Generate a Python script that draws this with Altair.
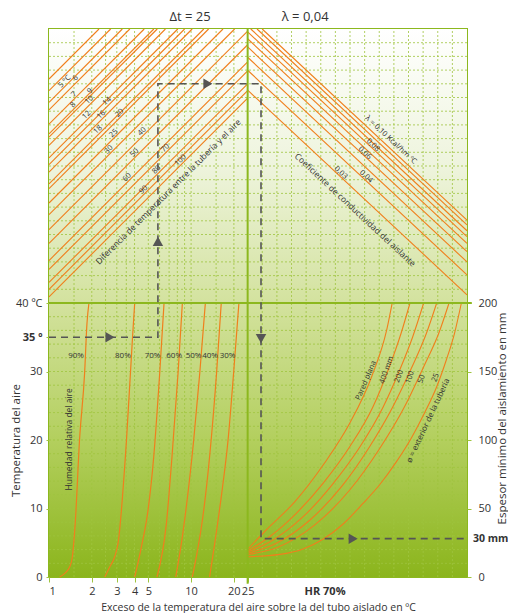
import altair as alt
import pandas as pd
import numpy as np

# ---------------- geometry of the nomogram ----------------
W, H = 418, 548
YMAX = 80.0                      # temperature-scale units over the full height (0-40 lower, 40-80 upper)
XMAX = W * YMAX / H              # linear units with the same pixel size as y units
DIV = 29.0                       # central divider (Δt = 25 on the log axis)
LOGMAX = 10 ** (np.log10(25.0) * XMAX / DIV)

ORANGE = "#f07f1c"
GREEN = "#8cb81e"
GRID = "#9fc43f"
TEXT = "#333333"
DASH = "#555555"
FONT = "Open Sans"

# ---------------- data ----------------
# Δt lines (upper left): intercept on the left edge
dt_extra_c = [72.7, 71.0]
dt_names = ["5 °C", "6", "7", "8", "9", "10", "12", "14", "16", "18", "20",
            "25", "30", "40", "50", "60", "70", "80", "90", "100"]
dt_c = [69.3, 68.2, 66.1, 64.7, 64.2, 63.0, 61.2, 60.2, 59.1, 57.4, 56.7,
        54.6, 52.9, 50.7, 48.7, 46.2, 44.9, 43.0, 42.0, 40.9]
dt_label_x = [2.3, 3.9, 3.65, 3.5, 6.0, 5.9, 5.5, 8.5, 7.65, 7.15, 10.3,
              9.45, 8.75, 13.6, 12.5, 11.4, 17.0, 15.7, 13.8, 19.2]

# λ lines (upper right): height where each meets the right edge
lam_right_y = [52.1, 51.4, 50.55, 49.7, 48.7, 47.5, 46.0, 44.1, 41.2]
LAM_SLOPE = 0.933
lam_labels = ["λ = 0,10 Kcal/hm ºC", "0,08", "0,06", "0,04", "0,03"]
lam_label_x = [49.9, 47.3, 46.1, 46.3, 42.6]
lam_label_y = [63.8, 63.05, 61.87, 58.44, 59.0]

# relative humidity curves (lower left): air temperature vs excess temperature (log axis)
hr_t = {
    "90%": [0, 0.54, 1.5, 2.96, 7.9, 20, 29.7, 37, 40],
    "80%": [0, 1.5, 2.96, 4.9, 20, 34.6, 40],
    "70%": [0, 4.4, 9.8, 17.6, 29.7, 40],
    "60%": [0, 7.8, 17.6, 29.7, 40],
    "50%": [0, 4.9, 10.3, 20, 29.7, 40],
    "40%": [0, 3.0, 8.8, 17.6, 29.7, 40],
    "30%": [0, 4.9, 11.7, 20, 29.7, 40],
}
hr_x = {
    "90%": [1.19, 1.29, 1.40, 1.46, 1.53, 1.64, 1.78, 1.85, 1.91],
    "80%": [2.47, 2.68, 2.90, 3.06, 3.51, 3.86, 4.01],
    "70%": [4.01, 4.47, 4.98, 5.46, 6.01, 6.45],
    "60%": [5.75, 6.70, 7.34, 8.09, 8.68],
    "50%": [7.79, 8.54, 9.26, 10.43, 11.5, 12.6],
    "40%": [10.2, 10.9, 12.1, 13.5, 15.1, 16.3],
    "30%": [13.5, 14.66, 16.3, 18.2, 19.9, 21.7],
}
hr_label_x = [1.55, 3.31, 5.35, 7.6, 10.4, 13.6, 18.05]
HR_LABEL_T = 32.2

# insulation thickness curves (lower right): x (linear units) vs thickness in mm
th_x = {
    "Pared plana": [29.0, 31.7, 35.9, 40.2, 43.9, 47.1, 49.3, 50.1],
    "400 mm": [29.0, 32.2, 36.1, 40.0, 43.9, 47.3, 49.7, 51.4, 52.7],
    "200": [29.0, 32.7, 37.1, 41.5, 45.4, 48.8, 51.2, 53.1, 54.7],
    "100": [29.0, 33.2, 38.1, 42.7, 46.8, 50.2, 52.9, 55.1, 56.6],
    "50": [29.0, 33.4, 38.8, 43.9, 48.3, 51.9, 54.7, 56.9, 58.4],
    "25": [29.0, 33.7, 37.1, 40.0, 42.9, 45.8, 48.3, 50.7, 52.9, 54.8, 56.6, 58.0, 59.2, 60.2],
}
th_mm = {
    "Pared plana": [20.2, 34.3, 55.0, 83.0, 112.2, 146.2, 180.3, 200],
    "400 mm": [19.2, 29.4, 46.5, 68.4, 95.1, 124.3, 153.5, 177.9, 200],
    "200": [18.3, 27.0, 44.0, 68.4, 95.1, 124.3, 151.1, 175.4, 200],
    "100": [17.3, 24.6, 41.6, 65.9, 95.1, 124.3, 152.3, 177.9, 200],
    "50": [16.3, 21.7, 38.0, 63.5, 94.0, 124.3, 153.5, 177.9, 200],
    "25": [14.8, 16.5, 20.5, 27.5, 38.5, 53.5, 67.5, 84.0, 101.5, 119.5, 138.9, 158.4, 177.9, 200],
}
th_label_names = ["Pared plana", "400 mm", "200", "100", "50", "25"]
th_label_x = [46.3, 49.3, 51.1, 52.7, 54.4, 56.45]
th_label_y = [28.7, 30.2, 29.3, 29.15, 28.9, 29.1]
th_label_angle = [293, 290, 290, 290, 290, 290]

# example path (dashed) and its arrows
path_x = [0.0, 15.9, 15.9, 30.95, 30.95, XMAX]
path_y = [35.0, 35.0, 72.0, 72.0, 5.6, 5.6]
arrow_x = [8.9, 15.9, 23.2, 30.95, 44.4]
arrow_y = [35.0, 49.0, 72.0, 34.8, 5.6]
arrow_shape = ["triangle-right", "triangle-up", "triangle-right", "triangle-down", "triangle-right"]
result_label = "30 mm"
RESULT_Y = 5.6

# axes
left_ticks = [0, 10, 20, 30, 35, 40]
right_ticks = [0, 10, 20, 30, 40]      # 5 mm per unit
bottom_ticks = [1, 2, 3, 4, 5, 10, 20, 25]
log_grid = [1.5, 2, 2.5, 3, 3.5, 4, 5, 6, 7, 8, 9, 10, 15, 20]

# ---------------- scales ----------------
xlin = alt.Scale(domain=[0, XMAX], nice=False, zero=False)
xlog = alt.Scale(type="log", domain=[1, LOGMAX], nice=False)
ysc = alt.Scale(domain=[0, YMAX], nice=False, zero=False)


def XL(f="x"):
    return alt.X(f"{f}:Q", scale=xlin, axis=None)


def XG(f="x", axis=None):
    return alt.X(f"{f}:Q", scale=xlog, axis=axis)


def Y(f="y", axis=None):
    return alt.Y(f"{f}:Q", scale=ysc, axis=axis)


# ---------------- layers ----------------
bg = alt.Chart(pd.DataFrame({"x": [0.0], "x2": [XMAX], "y": [0.0], "y2": [YMAX]})).mark_rect(
    color=alt.LinearGradient(
        gradient="linear",
        stops=[
            alt.GradientStop(offset=0, color="#ffffff"),
            alt.GradientStop(offset=0.25, color="#eef4dd"),
            alt.GradientStop(offset=0.5, color="#d3e29e"),
            alt.GradientStop(offset=0.75, color="#b3cf5e"),
            alt.GradientStop(offset=1, color="#8bb51c"),
        ],
        x1=0, x2=0, y1=0, y2=1,
    )
).encode(x=XL("x"), x2="x2:Q", y=Y("y"), y2="y2:Q")

hgrid_y = [v for v in range(2, 80, 2) if v != 40]
hgrid = alt.Chart(pd.DataFrame({"y": hgrid_y, "x": 0.0, "x2": XMAX})).mark_rule(
    color=GRID, strokeDash=[2, 2], strokeWidth=1, opacity=0.8
).encode(x=XL("x"), x2="x2:Q", y=Y("y"))

rgrid_x = [DIV + k * (XMAX - DIV) / 15 for k in range(1, 15)]
rgrid = alt.Chart(pd.DataFrame({"x": rgrid_x, "y": 0.0, "y2": YMAX})).mark_rule(
    color=GRID, strokeDash=[2, 2], strokeWidth=1, opacity=0.8
).encode(x=XL("x"), y=Y("y"), y2="y2:Q")

bottom_axis = alt.Axis(
    values=bottom_ticks, domain=False, ticks=True, tickColor=GRID, tickSize=5,
    labelPadding=3, labelFontSize=11, labelOverlap=False, labelFlush=True,
    labelFontWeight="normal",
    title="Exceso de la temperatura del aire sobre la del tubo aislado en ºC",
    titleFontSize=10.5, titleFontWeight="normal", titleY=30, titleBaseline="middle", grid=False,
)
lgrid = alt.Chart(pd.DataFrame({"x": log_grid, "y": 0.0, "y2": YMAX})).mark_rule(
    color=GRID, strokeDash=[2, 2], strokeWidth=1, opacity=0.8
).encode(x=XG("x", axis=bottom_axis), y=Y("y"), y2="y2:Q")

# Δt lines
rows = []
for i, c in enumerate(dt_extra_c + dt_c):
    xe = min(DIV, YMAX - c)
    rows.append({"id": i, "o": 0, "x": 0.0, "y": c})
    rows.append({"id": i, "o": 1, "x": xe, "y": c + xe})
dt_lines = alt.Chart(pd.DataFrame(rows)).mark_line(color=ORANGE, strokeWidth=1.1).encode(
    x=XL("x"), y=Y("y"), detail="id:N", order="o:Q")

dt_lab = pd.DataFrame({"t": dt_names, "x": dt_label_x, "c": dt_c})
dt_lab["y"] = dt_lab["x"] + dt_lab["c"] + 0.73
dt_text = alt.Chart(dt_lab).mark_text(angle=315, fontSize=7.5, color=TEXT, font=FONT).encode(
    x=XL("x"), y=Y("y"), text="t:N")

# λ lines
rows = []
for i, yr in enumerate(lam_right_y):
    xs = max(DIV, XMAX - (YMAX - yr) / LAM_SLOPE)
    ys = yr + LAM_SLOPE * (XMAX - xs)
    rows.append({"id": i, "o": 0, "x": xs, "y": ys})
    rows.append({"id": i, "o": 1, "x": XMAX, "y": yr})
lam_lines = alt.Chart(pd.DataFrame(rows)).mark_line(color=ORANGE, strokeWidth=1.1).encode(
    x=XL("x"), y=Y("y"), detail="id:N", order="o:Q")
lam_text = alt.Chart(pd.DataFrame({"t": lam_labels, "x": lam_label_x, "y": lam_label_y})).mark_text(
    angle=43, fontSize=7.5, color=TEXT, font=FONT).encode(x=XL("x"), y=Y("y"), text="t:N")

# humidity curves + left axis
rows = []
for k in hr_t:
    for t, xv in zip(hr_t[k], hr_x[k]):
        rows.append({"id": k, "x": xv, "y": t})
left_axis = alt.Axis(
    values=left_ticks, domain=False, grid=False, tickColor=GRID, tickSize=3, labelPadding=4,
    labelFontSize=11, labelOverlap=False,
    labelExpr="datum.value == 40 ? '40 ºC' : (datum.value == 35 ? '35 º' : datum.label)",
    labelFontWeight={"condition": {"test": "datum.value == 35", "value": "bold"}, "value": "normal"},
    title="Temperatura del aire", titleFontSize=11.5, titleFontWeight="normal",
    titleAngle=270, titleX=-33, titleY=411,
    titleAlign="center", titleBaseline="middle",
)
hr_lines = alt.Chart(pd.DataFrame(rows)).mark_line(color=ORANGE, strokeWidth=1.2, interpolate="monotone").encode(
    x=XG("x"), y=Y("y", axis=left_axis), detail="id:N")
hr_text = alt.Chart(pd.DataFrame({"t": list(hr_t.keys()), "x": hr_label_x, "y": HR_LABEL_T})).mark_text(
    fontSize=8, color=TEXT, font=FONT).encode(x=XG("x"), y=Y("y"), text="t:N")
hum_title = alt.Chart(pd.DataFrame({"t": ["Humedad relativa del aire"], "x": [1.39], "y": [20.1]})).mark_text(
    angle=270, fontSize=8.5, color=TEXT, font=FONT).encode(x=XG("x"), y=Y("y"), text="t:N")

# thickness curves + right axis
rows = []
for k in th_x:
    for xv, mm in zip(th_x[k], th_mm[k]):
        rows.append({"id": k, "x": xv, "mm": mm})
th_df = pd.DataFrame(rows)
th_df["y"] = th_df["mm"] / 5.0
right_axis = alt.Axis(
    orient="right", values=right_ticks, domain=False, grid=False, tickColor=GRID, tickSize=4,
    labelPadding=7, labelFontSize=11, labelOverlap=False, labelFontWeight="normal",
    labelExpr="format(datum.value * 5, 'd')",
    title="Espesor mínimo del aislamiento en mm", titleFontSize=11.5, titleFontWeight="normal",
    titleAngle=270, titleX=35, titleY=389, titleAlign="center", titleBaseline="middle",
)
th_lines = alt.Chart(th_df).mark_line(color=ORANGE, strokeWidth=1.1, interpolate="monotone").encode(
    x=XL("x"), y=Y("y", axis=right_axis), detail="id:N")
th_text = alt.Chart(pd.DataFrame({"t": th_label_names, "x": th_label_x, "y": th_label_y,
                                  "a": th_label_angle})).mark_text(
    fontSize=7.5, color=TEXT, font=FONT).encode(x=XL("x"), y=Y("y"), text="t:N",
                                                angle=alt.Angle("a:Q", scale=None))
phi_text = alt.Chart(pd.DataFrame({"t": ["ø = exterior de la tubería"], "x": [55.4], "y": [22.8]})).mark_text(
    angle=295, fontSize=8, color=TEXT, font=FONT).encode(x=XL("x"), y=Y("y"), text="t:N")

# long diagonal captions
cap_df = pd.DataFrame({
    "t": ["Diferencia de temperatura entre la tubería y el aire", "Coeficiente de conductividad del aislante"],
    "x": [17.4, 44.7], "y": [56.25, 53.6], "a": [315, 43]})
captions = alt.Chart(cap_df).mark_text(fontSize=8.5, color=TEXT, font=FONT).encode(
    x=XL("x"), y=Y("y"), text="t:N", angle=alt.Angle("a:Q", scale=None))

# structure lines: 40 ºC separator and central divider
sep = alt.Chart(pd.DataFrame({"x": [0.0], "x2": [XMAX + 0.7], "y": [40.0]})).mark_rule(
    color=GREEN, strokeWidth=1.8).encode(x=XL("x"), x2="x2:Q", y=Y("y"))
divider = alt.Chart(pd.DataFrame({"x": [DIV], "y": [-1.0], "y2": [YMAX]})).mark_rule(
    color=GREEN, strokeWidth=2).encode(x=XL("x"), y=Y("y"), y2="y2:Q")

# example path
path = alt.Chart(pd.DataFrame({"x": path_x, "y": path_y, "o": list(range(len(path_x)))})).mark_line(
    color=DASH, strokeDash=[7, 5], strokeWidth=1.6).encode(x=XL("x"), y=Y("y"), order="o:Q")
arrows = alt.Chart(pd.DataFrame({"x": arrow_x, "y": arrow_y, "s": arrow_shape})).mark_point(
    filled=True, size=110, color=DASH, opacity=1).encode(
    x=XL("x"), y=Y("y"), shape=alt.Shape("s:N", scale=None))
result = alt.Chart(pd.DataFrame({"t": [result_label], "x": [XMAX], "y": [RESULT_Y]})).mark_text(
    fontSize=10.5, fontWeight="bold", color=TEXT, font=FONT, align="left", dx=6).encode(
    x=XL("x"), y=Y("y"), text="t:N")

# headings
head_df = pd.DataFrame({"t": ["Δt = 25", "λ = 0,04"], "x": [20.6, 37.4], "y": [81.75, 81.75]})
heads = alt.Chart(head_df).mark_text(fontSize=13, color=TEXT, font=FONT).encode(
    x=XL("x"), y=Y("y"), text="t:N")
hr70 = alt.Chart(pd.DataFrame({"t": ["HR 70%"], "x": [40.3], "y": [-2.2]})).mark_text(
    fontSize=11, fontWeight="bold", color=TEXT, font=FONT).encode(x=XL("x"), y=Y("y"), text="t:N")

chart = alt.layer(
    bg, hgrid, rgrid, lgrid,
    dt_lines, lam_lines, hr_lines, th_lines,
    sep, divider,
    dt_text, lam_text, hr_text, hum_title, th_text, phi_text, captions,
    path, arrows, result, heads, hr70,
).resolve_scale(x="independent").resolve_axis(y="independent", x="independent").properties(
    width=W, height=H,
    padding={"left": 41, "top": 21, "right": 41, "bottom": 36},
    autosize=alt.AutoSizeParams(type="none"),
).configure(font=FONT).configure_view(stroke=GREEN, strokeWidth=2).configure_axis(
    labelFont=FONT, titleFont=FONT, labelColor=TEXT, titleColor=TEXT
)

chart.save("out.html", embed_options={"renderer": "svg", "actions": False})
